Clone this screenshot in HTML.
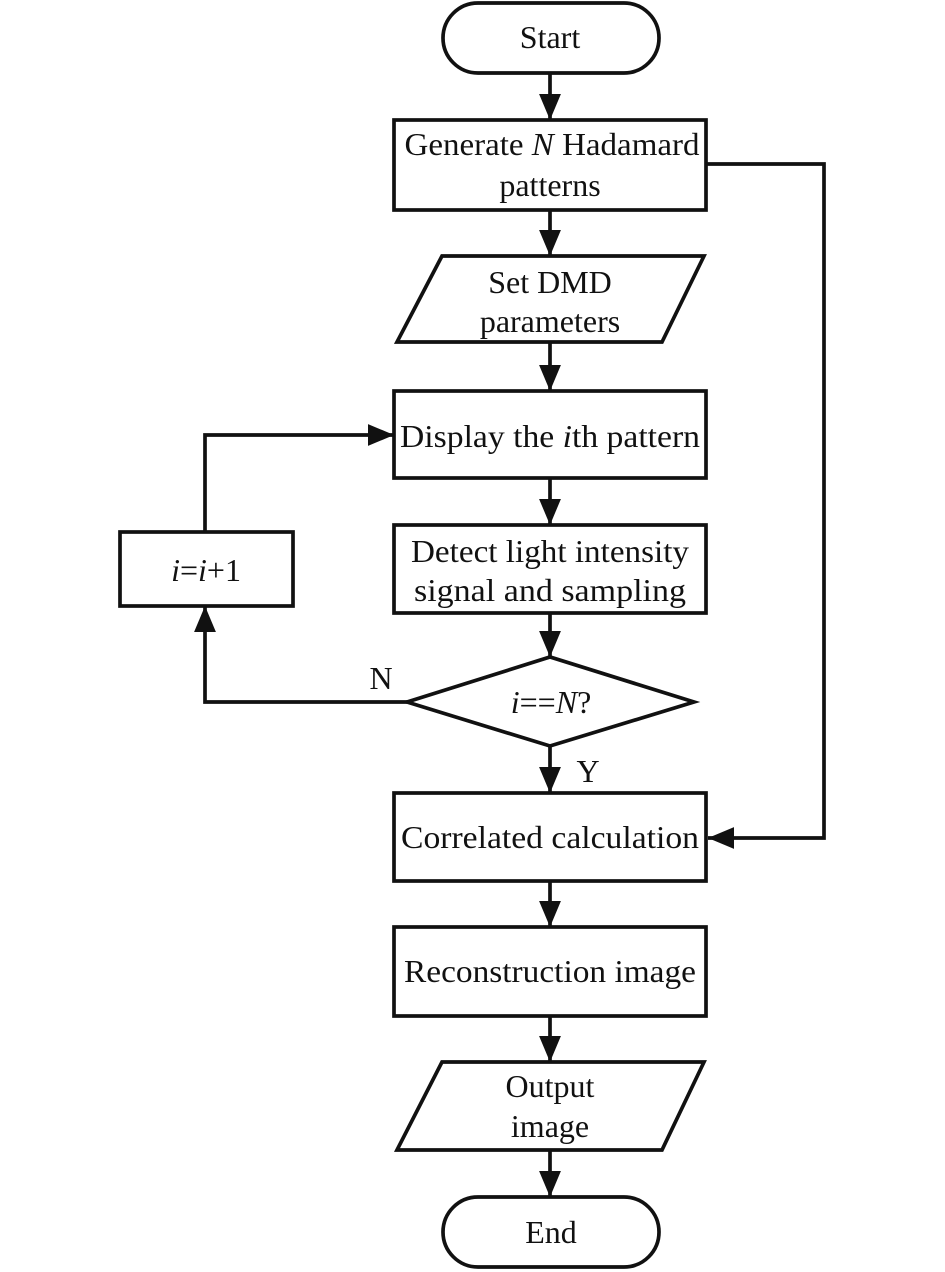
<!DOCTYPE html>
<html><head><style>html,body{margin:0;padding:0;background:#fff}svg{display:block}</style></head>
<body>
<svg width="945" height="1272" viewBox="0 0 945 1272" xmlns="http://www.w3.org/2000/svg" font-family="Liberation Serif, serif" font-size="32" fill="#111">
<defs>
<marker id="b" viewBox="0 0 10 10" refX="10" refY="5" markerWidth="26" markerHeight="26" markerUnits="userSpaceOnUse" orient="auto">
<path d="M0,0.8 L10,5 L0,9.2 z" fill="#111"/></marker>
</defs>
<g stroke="#111" stroke-width="3.7" fill="none">
<rect x="443" y="3" width="216" height="70" rx="35"/>
<rect x="394" y="120" width="312" height="90"/>
<polygon points="442,256 704,256 662,342 397,342"/>
<rect x="394" y="391" width="312" height="87"/>
<rect x="394" y="525" width="312" height="88"/>
<polygon points="407,702 550,657 694,702 550,746"/>
<rect x="120" y="532" width="173" height="74"/>
<rect x="394" y="793" width="312" height="88"/>
<rect x="394" y="927" width="312" height="89"/>
<polygon points="442,1062 704,1062 662,1150 397,1150"/>
<rect x="443" y="1197" width="216" height="70" rx="35"/>
</g>
<g stroke="#111" stroke-width="3.7" fill="none" marker-end="url(#b)">
<path d="M550,73 V120"/>
<path d="M550,210 V256"/>
<path d="M550,342 V391"/>
<path d="M550,478 V525"/>
<path d="M550,613 V657"/>
<path d="M550,746 V793"/>
<path d="M550,881 V927"/>
<path d="M550,1016 V1062"/>
<path d="M550,1150 V1197"/>
<path d="M706,164 H824 V838 H708"/>
<path d="M407,702 H205 V606"/>
<path d="M205,532 V435 H394"/>
</g>
<g text-anchor="middle">
<text x="550" y="48">Start</text>
<text x="552" y="155" textLength="295" lengthAdjust="spacingAndGlyphs">Generate <tspan font-style="italic">N</tspan> Hadamard</text>
<text x="550" y="196">patterns</text>
<text x="550" y="293">Set DMD</text>
<text x="550" y="332">parameters</text>
<text x="550" y="447" textLength="300" lengthAdjust="spacingAndGlyphs">Display the <tspan font-style="italic">i</tspan>th pattern</text>
<text x="550" y="562" textLength="278" lengthAdjust="spacingAndGlyphs">Detect light intensity</text>
<text x="550" y="601" textLength="272" lengthAdjust="spacingAndGlyphs">signal and sampling</text>
<text x="551" y="713"><tspan font-style="italic">i</tspan>==<tspan font-style="italic">N</tspan>?</text>
<text x="206" y="581"><tspan font-style="italic">i</tspan>=<tspan font-style="italic">i</tspan>+1</text>
<text x="550" y="848" textLength="298" lengthAdjust="spacingAndGlyphs">Correlated calculation</text>
<text x="550" y="982" textLength="292" lengthAdjust="spacingAndGlyphs">Reconstruction image</text>
<text x="550" y="1097">Output</text>
<text x="550" y="1137">image</text>
<text x="551" y="1243">End</text>
<text x="381" y="689">N</text>
<text x="588" y="782">Y</text>
</g>
</svg>
</body></html>
